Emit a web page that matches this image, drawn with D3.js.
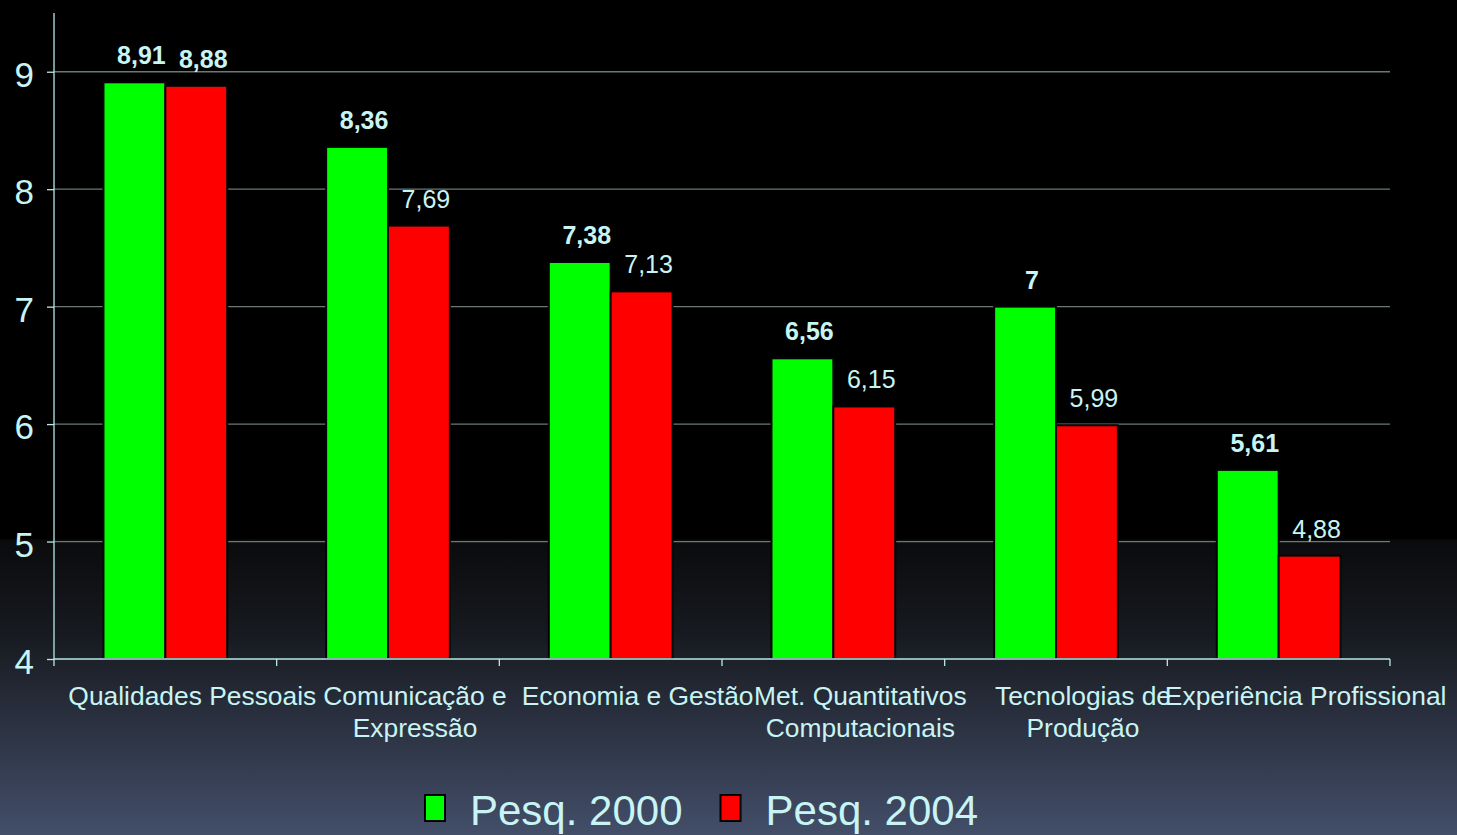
<!DOCTYPE html>
<html>
<head>
<meta charset="utf-8">
<script src="https://cdn.jsdelivr.net/npm/d3@7"></script>
<style>
  html, body { margin: 0; padding: 0; background: #000; overflow: hidden; }
  svg { display: block; font-family: "Liberation Sans", Arial, sans-serif; }
</style>
</head>
<body>
<div id="chart"></div>
<script>
// --- Data ---
const categories = [
    ["Qualidades Pessoais"],
    ["Comunicação e", "Expressão"],
    ["Economia e Gestão"],
    ["Met. Quantitativos", "Computacionais"],
    ["Tecnologias de", "Produção"],
    ["Experiência Profissional"]
];
const seriesNames = ["Pesq. 2000", "Pesq. 2004"];
const pesq2000 = [8.91, 8.36, 7.38, 6.56, 7.00, 5.61];
const pesq2004 = [8.88, 7.69, 7.13, 6.15, 5.99, 4.88];
const labels2000 = ["8,91", "8,36", "7,38", "6,56", "7", "5,61"];
const labels2004 = ["8,88", "7,69", "7,13", "6,15", "5,99", "4,88"];
const bold2004 = [true, false, false, false, false, false];
const yTicks = [4, 5, 6, 7, 8, 9];

// --- Rendering ---
const width = 1457, height = 835;
const margin = { top: 13, right: 67, bottom: 176, left: 54 };
const textColor = "#c8f4f4";
const colors = ["#00ff00", "#ff0000"];

const svg = d3.select("#chart").append("svg")
    .attr("width", width)
    .attr("height", height);

// background: black top, gradient towards slate blue at bottom
const defs = svg.append("defs");
const grad = defs.append("linearGradient")
    .attr("id", "bg").attr("x1", 0).attr("y1", 0).attr("x2", 0).attr("y2", 1);
grad.append("stop").attr("offset", "0").attr("stop-color", "#000000");
grad.append("stop").attr("offset", "0.645").attr("stop-color", "#000000");
grad.append("stop").attr("offset", "0.647").attr("stop-color", "#0a0b0d");
grad.append("stop").attr("offset", "0.76").attr("stop-color", "#171a20");
grad.append("stop").attr("offset", "1").attr("stop-color", "#434e69");
svg.append("rect").attr("width", width).attr("height", height).attr("fill", "url(#bg)");

const idx = d3.range(categories.length);

const x0 = d3.scaleBand()
    .domain(idx)
    .range([margin.left, width - margin.right])
    .padding(0);

const x1 = d3.scaleBand()
    .domain([0, 1])
    .range([0, x0.bandwidth()])
    .paddingInner(0)
    .paddingOuter(0.8);

const y = d3.scaleLinear()
    .domain([4, 9.5])
    .range([height - margin.bottom, margin.top]);

// gridlines
svg.append("g")
    .selectAll("line")
    .data(yTicks.filter(d => d > 4))
    .join("line")
    .attr("x1", margin.left)
    .attr("x2", width - margin.right)
    .attr("y1", d => y(d))
    .attr("y2", d => y(d))
    .attr("stroke", "#6b7878")
    .attr("stroke-width", 1.3);

// bars
const series = [pesq2000, pesq2004];
series.forEach((vals, s) => {
    svg.append("g")
        .selectAll("rect")
        .data(vals)
        .join("rect")
        .attr("x", (d, i) => x0(i) + x1(s))
        .attr("y", d => y(d))
        .attr("width", x1.bandwidth())
        .attr("height", d => y(4) - y(d))
        .attr("fill", colors[s])
        .attr("stroke", "#050505")
        .attr("stroke-width", 2);
});

// value labels
const labelSets = [labels2000, labels2004];
labelSets.forEach((labs, s) => {
    svg.append("g")
        .selectAll("text")
        .data(labs)
        .join("text")
        .attr("x", (d, i) => x0(i) + x1(s) + x1.bandwidth() / 2 + 7)
        .attr("y", (d, i) => y(series[s][i]) - 18)
        .attr("text-anchor", "middle")
        .attr("fill", textColor)
        .style("font-size", "25px")
        .style("font-weight", (d, i) => (s === 0 || bold2004[i]) ? "bold" : "normal")
        .text(d => d);
});

// y axis
const yAxis = svg.append("g")
    .attr("transform", `translate(${margin.left},0)`)
    .call(d3.axisLeft(y).tickValues(yTicks).tickSize(7).tickFormat(d3.format("d")));
yAxis.select(".domain").attr("stroke", "#b8e8e8").attr("stroke-width", 1.3)
    .attr("d", `M0,${y(4) + 7}V${y(9.5)}`);
yAxis.selectAll(".tick line").attr("stroke", "#b8e8e8").attr("stroke-width", 1.3);
yAxis.selectAll(".tick text")
    .attr("x", -20)
    .attr("dy", "0.42em")
    .attr("fill", textColor)
    .style("font-size", "35px")
    .style("font-family", "'Liberation Sans', Arial, sans-serif");

// x axis
const xg = svg.append("g").attr("transform", `translate(0,${y(4)})`);
xg.append("line")
    .attr("x1", margin.left).attr("x2", width - margin.right)
    .attr("stroke", "#b8e8e8").attr("stroke-width", 1.3);
xg.selectAll("line.tick")
    .data(idx)
    .join("line")
    .attr("class", "tick")
    .attr("x1", i => x0(i) + x0.bandwidth())
    .attr("x2", i => x0(i) + x0.bandwidth())
    .attr("y1", 0).attr("y2", 7)
    .attr("stroke", "#b8e8e8").attr("stroke-width", 1.3);

// category labels
const catLabels = svg.append("g");
categories.forEach((lines, i) => {
    const t = catLabels.append("text")
        .attr("text-anchor", "middle")
        .attr("fill", textColor)
        .style("font-size", "26.4px");
    lines.forEach((ln, k) => {
        t.append("tspan")
            .attr("x", x0(i) + x0.bandwidth() / 2 + 27)
            .attr("y", y(4) + 46 + k * 32)
            .text(ln);
    });
});

// legend
const legend = svg.append("g").attr("transform", "translate(424,0)");
let lx = 0;
seriesNames.forEach((name, s) => {
    const g = legend.append("g").attr("transform", `translate(${lx},0)`);
    g.append("rect")
        .attr("x", 1).attr("y", 795)
        .attr("width", 20).attr("height", 26)
        .attr("fill", colors[s])
        .attr("stroke", "#000").attr("stroke-width", 2);
    const t = g.append("text")
        .attr("x", 46).attr("y", 825)
        .attr("fill", textColor)
        .style("font-size", "42px")
        .text(name);
    lx += 46 + t.node().getComputedTextLength() + 37;
});
</script>
</body>
</html>
